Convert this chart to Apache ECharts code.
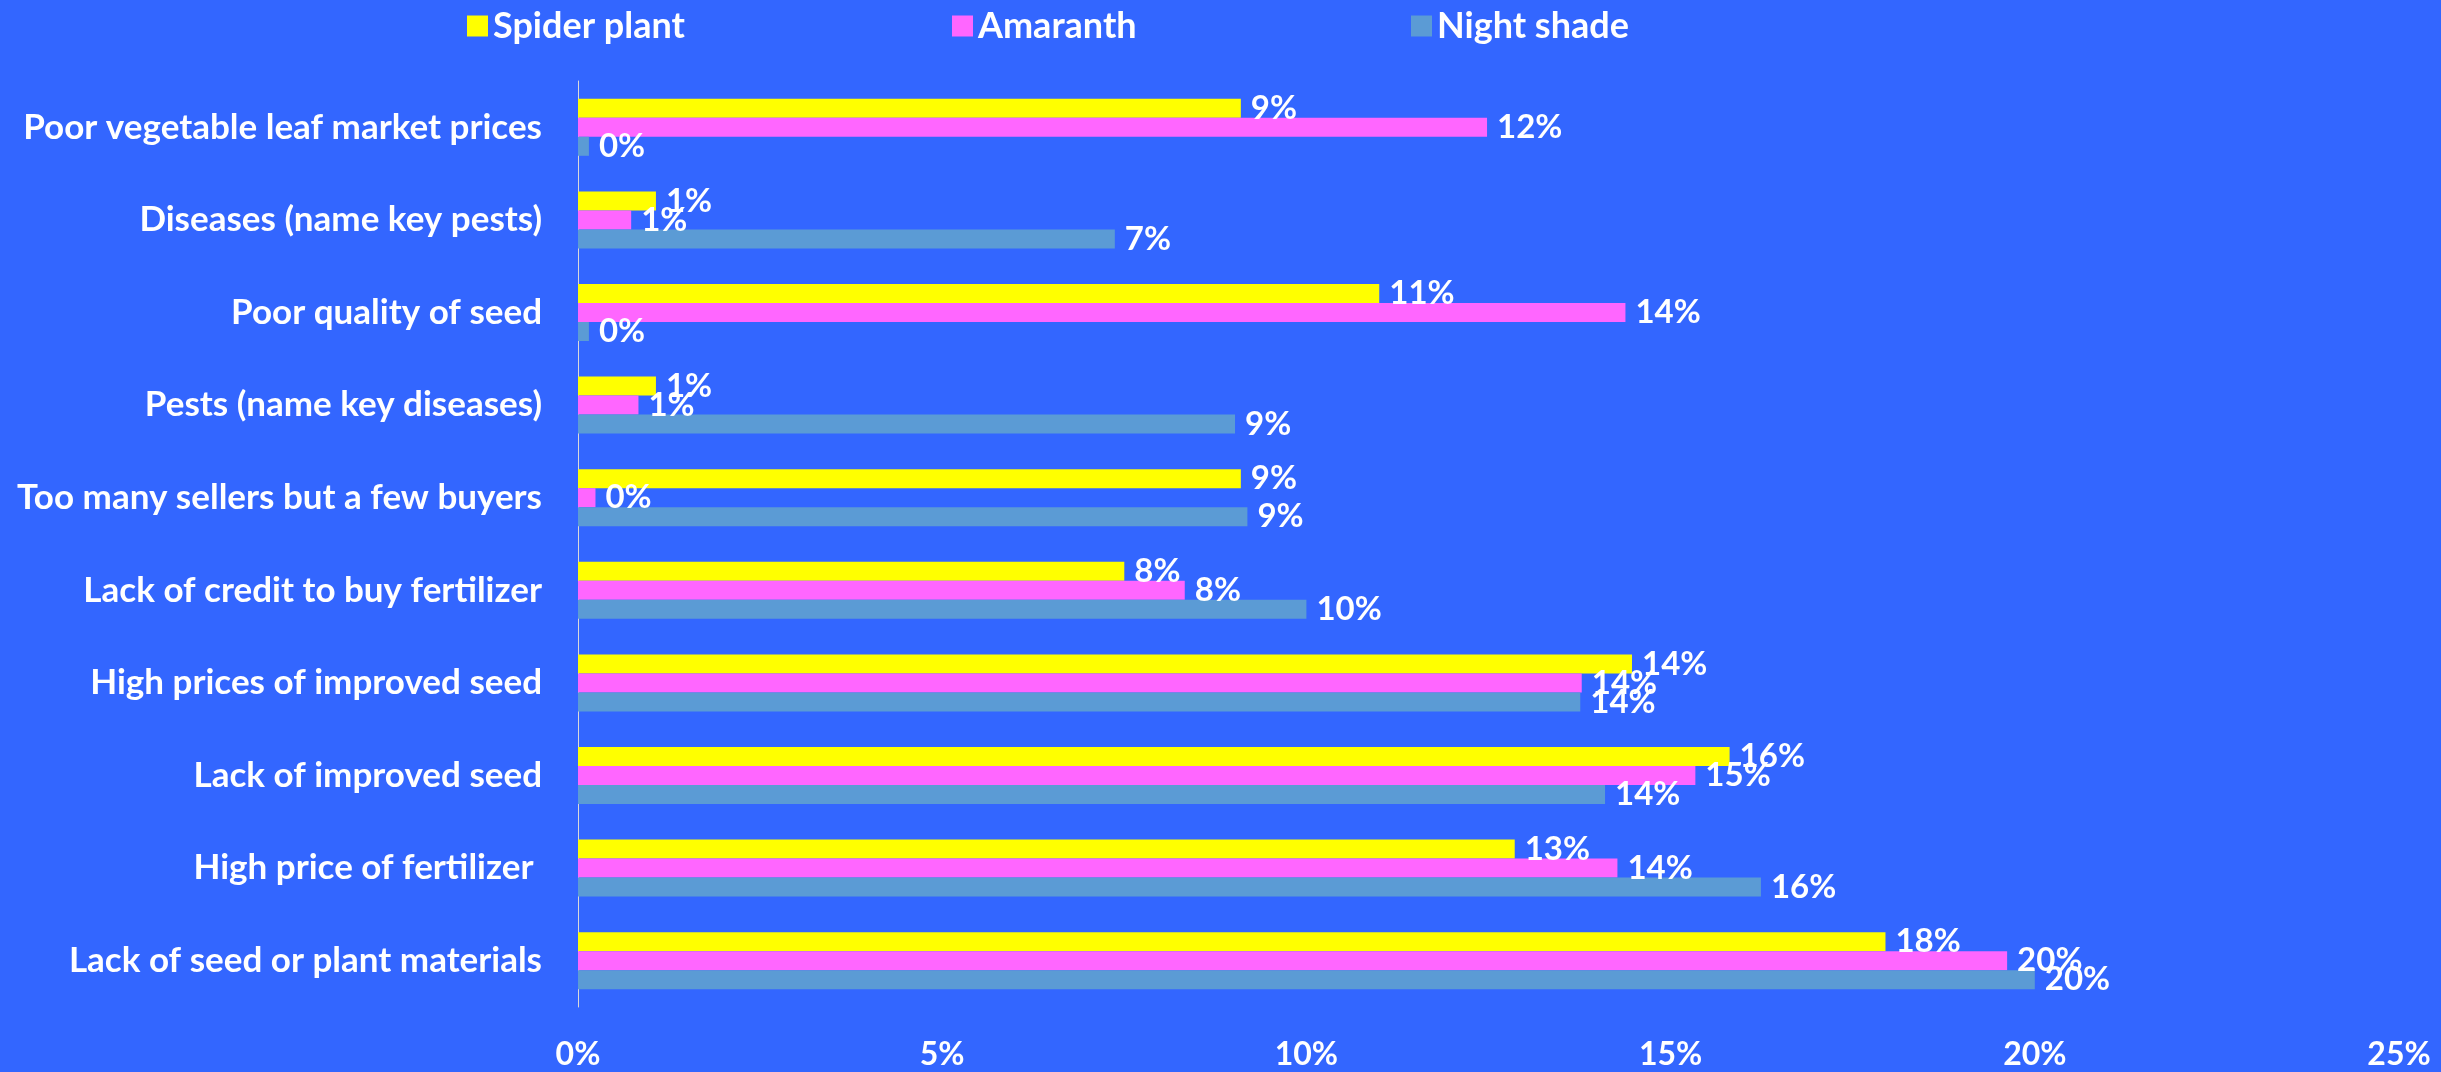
<!DOCTYPE html>
<html>
<head>
<meta charset="utf-8">
<script src="https://cdn.jsdelivr.net/npm/echarts@6/dist/echarts.min.js"></script>
<style>
  html, body { margin: 0; padding: 0; background: #3366ff; }
  #main { width: 2441px; height: 1072px; }
</style>
</head>
<body>
<div id="main"></div>
<script>
// categories, top to bottom as in the picture
const categories = [
  'Poor vegetable leaf market prices',
  'Diseases (name key pests)',
  'Poor quality of seed',
  'Pests (name key diseases)',
  'Too many sellers but a few buyers',
  'Lack of credit to buy fertilizer',
  'High prices of improved seed',
  'Lack of improved seed',
  'High price of fertilizer ',
  'Lack of seed or plant materials'
];

// percentages
const spiderPlant = [9.1, 1.07, 11.0, 1.07, 9.1, 7.5, 14.47, 15.81, 12.86, 17.95];
const amaranth    = [12.48, 0.73, 14.38, 0.83, 0.24, 8.33, 13.78, 15.34, 14.27, 19.62];
const nightShade  = [0.15, 7.37, 0.15, 9.02, 9.19, 10.0, 13.76, 14.1, 16.24, 20.0];

const xTicks = [0, 5, 10, 15, 20, 25];

const font = 'Lato';
const fs = 32;

const labelStyle = {
  show: true,
  position: 'right',
  distance: 10,
  color: '#fff',
  fontFamily: font,
  fontWeight: 'bold',
  fontSize: 33,
  formatter: p => Math.round(p.value) + '%'
};

const mkSeries = (name, data, color) => ({
  name: name,
  type: 'bar',
  data: data,
  barWidth: 19,
  barGap: '0%',
  itemStyle: { color: color },
  label: labelStyle
});

const legendText = { color: '#fff', fontFamily: font, fontWeight: 'bold', fontSize: 36 };
const mkLegend = (name, left) => ({
  data: [name],
  left: left,
  top: 3,
  itemWidth: 21,
  itemHeight: 21,
  itemGap: 0,
  icon: 'rect',
  textStyle: legendText
});

let myChart = echarts.init(document.getElementById('main'));
let option = {
  backgroundColor: '#3366ff',
  animation: false,
  legend: [
    mkLegend('Spider plant', 462),
    mkLegend('Amaranth', 947),
    mkLegend('Night shade', 1406)
  ],
  grid: { left: 578, right: 42, top: 81, bottom: 65 },
  xAxis: {
    type: 'value',
    min: xTicks[0],
    max: xTicks[xTicks.length - 1],
    interval: 5,
    axisLine: { show: false },
    axisTick: { show: false },
    splitLine: { show: false },
    axisLabel: {
      color: '#fff',
      fontFamily: font,
      fontWeight: 'bold',
      fontSize: fs,
      margin: 32,
      formatter: v => v + '%'
    }
  },
  yAxis: {
    type: 'category',
    inverse: true,
    data: categories,
    axisLine: { show: true, lineStyle: { color: '#d9d9d9', width: 1 } },
    axisTick: { show: false },
    axisLabel: {
      color: '#fff',
      fontFamily: font,
      fontWeight: 'bold',
      fontSize: 35,
      margin: 36
    }
  },
  series: [
    mkSeries('Spider plant', spiderPlant, '#ffff00'),
    mkSeries('Amaranth', amaranth, '#ff66ff'),
    mkSeries('Night shade', nightShade, '#5b9bd5')
  ]
};
myChart.setOption(option);
</script>
</body>
</html>
